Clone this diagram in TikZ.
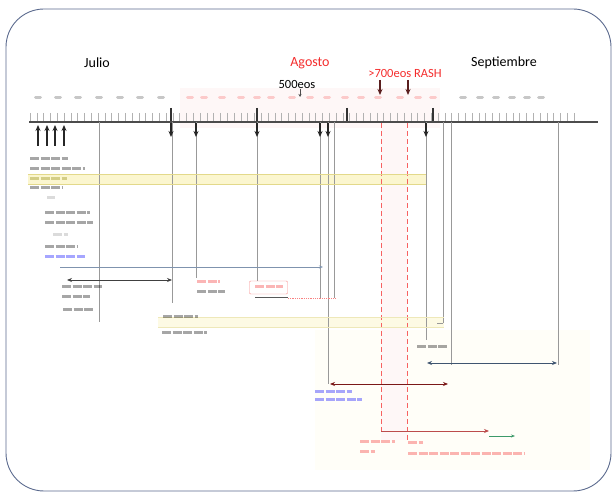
\documentclass[tikz,border=0pt]{standalone}
\usepackage{fontspec}
\setmainfont{Carlito}
\usetikzlibrary{arrows.meta}

\definecolor{framecol}{HTML}{5B6A8E}
\definecolor{eosred}{HTML}{F42C2C}
\definecolor{darkred}{HTML}{5A1E1E}
\definecolor{bandfill}{HTML}{FBF6CF}
\definecolor{bandline}{HTML}{E3D98A}
\definecolor{pinktint}{HTML}{FEF7F7}
\definecolor{creamtint}{HTML}{FFFEF8}
\definecolor{bluegrey}{HTML}{7F93AE}
\definecolor{navyline}{HTML}{3F5570}
\definecolor{greenline}{HTML}{3D9A6A}

\tikzstyle{frame}    = [draw=framecol, line width=0.9pt, rounded corners=38pt]
\tikzstyle{month}    = [font=\fontsize{14}{16}\selectfont, inner sep=0pt]
\tikzstyle{eos}      = [font=\fontsize{12.5}{14}\selectfont, inner sep=0pt]
\tikzstyle{axisline} = [line width=1.8pt, black!70]
\tikzstyle{tick}     = [line width=0.5pt, black!30]
\tikzstyle{bigtick}  = [line width=1.4pt, black!80]
\tikzstyle{datelab}  = [line width=3pt, black!22, line cap=round]
\tikzstyle{ev}       = [-{Stealth[length=6pt,width=5pt]}, line width=1.6pt, black!85]
\tikzstyle{guide}    = [line width=0.45pt, black!40]
\tikzstyle{rash}     = [line width=0.9pt, eosred!75, dash pattern=on 5pt off 3pt]
\tikzstyle{span}     = [{Stealth[length=5pt,width=4pt]}-{Stealth[length=5pt,width=4pt]}, line width=0.9pt]
\tikzstyle{smudge}   = [line width=3pt, opacity=0.35, dash pattern=on 9pt off 1.5pt]

\begin{document}
\begin{tikzpicture}[x=1pt,y=-1pt]
  \useasboundingbox (0,0) rectangle (614,497);

  % faint shading
  \fill[pinktint] (180,88) rectangle (440,128);
  \fill[creamtint] (315,330) rectangle (590,470);
  \fill[pinktint] (381,128) rectangle (407,440);
  \draw[frame] (6,9) rectangle (611,491);

  % months and counts
  \node at (97,63) (jul) [month] {Julio};
  \node at (310,63) (ago) [month, text=eosred] {Agosto};
  \node at (504,63) (sep) [month] {Septiembre};
  \node at (297,84) (eos500) [eos] {500eos};
  \node at (405,73) (eos700) [eos, text=eosred] {>700eos RASH};

  % time axis
  \fill[bandfill] (28,174) rectangle (426,184);
  \fill[bandfill!55] (158,317) rectangle (444,327);
  \foreach \i in {0,...,80} \draw[tick] ({30+6.8*\i},113) -- ++(0,9);
  \foreach \x in {171,257,347,433} \draw[bigtick] (\x,108) -- (\x,122);
  \coordinate (ax-w) at (29,122);
  \coordinate (ax-e) at (598,122);
  \draw[axisline] (ax-w) -- (ax-e);

  % day numbers
  \foreach \x in {38,58,78,99,120,140,161,463,480,496,512,527,541}
    \draw[datelab] ({\x-2.5},98) -- ({\x+2.5},98);
  \foreach \x in {190,204,222,241,257,271,292,310,327,345,361,378,400,418,433}
    \draw[datelab, eosred!25] ({\x-2.5},98) -- ({\x+2.5},98);

  % guide lines
  \foreach \x/\y [count=\n] in {99/322,172/303,196/278,257/281,320/298,328/384,334/298,426/340,443/323,451/365,558/365} {
    \coordinate (g-\n) at (\x,122);
    \coordinate (ge-\n) at (\x,\y);
    \draw[guide] (g-\n) -- (ge-\n);
  }
  \draw[guide] (ge-9) -- ++(-6,0);
  \foreach \x/\y [count=\n] in {381/431,407/441} {
    \coordinate (r-\n) at (\x,123);
    \coordinate (re-\n) at (\x,\y);
    \draw[rash] (r-\n) -- (re-\n);
  }

  % events
  \foreach \x [count=\n] in {38,47,55,64} {
    \coordinate (up-\n) at (\x,146);
    \coordinate (ut-\n) at (\x,125);
    \draw[ev] (up-\n) -- (ut-\n);
  }
  \foreach \x [count=\n] in {171,196,257,320,328,426} {
    \coordinate (dn-\n) at (\x,123);
    \coordinate (dt-\n) at (\x,137);
    \draw[ev] (dn-\n) -- (dt-\n);
  }
  \foreach \x [count=\n] in {380,408} {
    \coordinate (rt-\n) at (\x,80);
    \coordinate (rh-\n) at (\x,95);
    \draw[ev, darkred, line width=1.2pt] (rt-\n) -- (rh-\n);
  }
  \coordinate (e5-t) at (300,89);
  \coordinate (e5-h) at (300,97);
  \draw[-{Stealth[length=3pt,width=3pt]}, black!70, line width=0.8pt] (e5-t) -- (e5-h);

  % bands and spans
  \draw[bandline, line width=0.6pt] (28,174) -- (426,174) (28,184) -- (426,184);
  \draw[bandline!60, line width=0.6pt] (158,317) -- (444,317) (158,327) -- (444,327);
  \coordinate (s1-a) at (60,267);   \coordinate (s1-b) at (323,267);
  \draw[-{Stealth[length=4pt,width=3pt]}, bluegrey, line width=0.8pt] (s1-a) -- (s1-b);
  \coordinate (s2-a) at (67,280);   \coordinate (s2-b) at (172,280);
  \draw[span, black!75] (s2-a) -- (s2-b);
  \node at (268.5,287.5) (rbox) [draw=eosred!55, minimum width=38pt, minimum height=13pt, rounded corners=1pt, inner sep=0pt] {};
  \coordinate (u-a) at (255,298);   \coordinate (u-b) at (288,298);   \coordinate (u-c) at (336,298);
  \draw[black!65, line width=1pt] (u-a) -- (u-b);
  \draw[eosred!60, densely dotted, line width=0.8pt] (u-b) -- (u-c);
  \coordinate (s3-a) at (427,363);  \coordinate (s3-b) at (557,363);
  \draw[span, navyline] (s3-a) -- (s3-b);
  \coordinate (s4-a) at (330,384);  \coordinate (s4-b) at (448,384);
  \draw[span, darkred!80!red] (s4-a) -- (s4-b);
  \coordinate (s5-b) at (489,431);
  \draw[-{Stealth[length=5pt,width=4pt]}, line width=0.9pt, eosred!70!black!80] (re-1) -- (s5-b);
  \coordinate (s6-a) at (489,436);  \coordinate (s6-b) at (515,436);
  \draw[-{Stealth[length=4pt,width=3pt]}, line width=0.8pt, greenline] (s6-a) -- (s6-b);

  % small annotations
  \foreach \a/\b/\y/\c in {30/68/159/black, 30/85/169/black, 30/67/179/olive, 30/62/188/black,
      47/55/198/black!40, 45/90/213/black, 45/93/223/black, 53/68/235/black!40,
      45/77/247/black, 45/85/257/blue, 62/102/287/black, 62/90/297/black, 63/93/310/black,
      163/198/317/black, 162/207/333/black, 197/220/282/eosred, 197/225/292/black,
      255/283/287/eosred, 417/448/347/black, 315/352/392/blue, 315/362/400/blue,
      360/395/442/eosred, 360/375/452/eosred, 408/423/443/eosred, 408/525/454/eosred}
    \draw[smudge, \c] (\a,\y) -- (\b,\y);
\end{tikzpicture}
\end{document}
